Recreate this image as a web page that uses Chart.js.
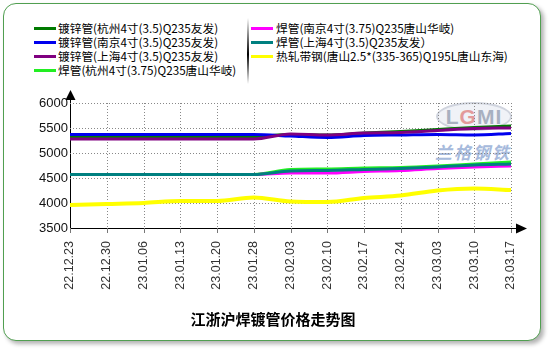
<!DOCTYPE html>
<html><head><meta charset="utf-8">
<script src="https://cdn.jsdelivr.net/npm/chart.js@4.4.1/dist/chart.umd.min.js"></script>
<style>
html,body{margin:0;padding:0;background:#fff;}
#wrap{position:relative;width:550px;height:350px;overflow:hidden;}
#frame{position:absolute;left:3px;top:3px;width:536px;height:336px;border:1.5px solid #519f51;border-radius:13px;box-shadow:3px 3px 4px rgba(0,0,0,0.3);background:#fff;}
#c{position:absolute;left:0;top:0;}
.leg{position:absolute;font:11.7px "Noto Sans CJK SC",sans-serif;line-height:14px;height:14px;white-space:nowrap;color:#000;}
.sw{position:absolute;height:3px;width:22px;}
#sep{position:absolute;left:247px;top:18px;width:2px;height:66px;background:linear-gradient(#fff,#000 55%,#fff);}
#title{position:absolute;left:0;width:546px;top:308px;text-align:center;font:bold 15px "Noto Sans CJK SC",sans-serif;color:#000;}
#wm1{position:absolute;left:436px;top:102px;width:72px;height:25px;border-radius:50%;border:2px solid #d0d4de;background:rgba(225,230,240,0.5);text-align:center;font:bold 21px "Liberation Sans",sans-serif;line-height:25px;color:#a8b0c0;letter-spacing:1px;}
#wm1 b{color:#e39a9a;}
#wm2{position:absolute;left:435px;top:139px;font:bold italic 17px "Noto Sans CJK SC",serif;color:#a6badc;letter-spacing:2px;}
</style></head>
<body>
<div id="wrap">
  <div id="frame"></div>
  <div id="wm1">L<b>G</b>MI</div>
  <div id="wm2">兰格钢铁</div>
  <div id="sep"></div>
  <div id="legend"></div>
  <canvas id="c" width="550" height="350"></canvas>
  <div id="title">江浙沪焊镀管价格走势图</div>
</div>
<script>
const dates = ["22.12.23","22.12.30","23.01.06","23.01.13","23.01.20","23.01.28","23.02.03","23.02.10","23.02.17","23.02.24","23.03.03","23.03.10","23.03.17"];
const yTicks = [3500,4000,4500,5000,5500,6000];

const seriesNames = [
  "镀锌管(杭州4寸(3.5)Q235友发)",
  "镀锌管(南京4寸(3.5)Q235友发)",
  "镀锌管(上海4寸(3.5)Q235友发)",
  "焊管(杭州4寸(3.75)Q235唐山华岐)",
  "焊管(南京4寸(3.75)Q235唐山华岐)",
  "焊管(上海4寸(3.5)Q235友发）",
  "热轧带钢(唐山2.5*(335-365)Q195L唐山东海)"
];
const seriesColors = ["#007a00","#0000ee","#800080","#22ee22","#ff00ff","#008080","#ffff00"];

const galvHangzhou = [5330,5330,5330,5330,5330,5330,5370,5360,5400,5430,5470,5510,5540];
const galvNanjing  = [5370,5370,5370,5370,5370,5370,5340,5310,5350,5360,5370,5360,5390];
const galvShanghai = [5280,5280,5280,5280,5280,5280,5380,5360,5400,5410,5450,5490,5500];
const weldHangzhou = [4570,4570,4570,4570,4570,4570,4670,4680,4700,4710,4740,4780,4820];
const weldNanjing  = [4570,4570,4570,4570,4570,4570,4600,4600,4630,4650,4690,4720,4740];
const weldShanghai = [4570,4570,4570,4570,4570,4570,4640,4650,4670,4690,4720,4760,4780];
const hotRolled    = [3960,3980,4000,4040,4040,4110,4030,4020,4100,4150,4250,4290,4260];

const seriesData = [galvHangzhou,galvNanjing,galvShanghai,weldHangzhou,weldNanjing,weldShanghai,hotRolled];

const leg = document.getElementById('legend');
seriesNames.forEach((n,i)=>{
  const col = i<4?0:1, row = i<4?i:i-4;
  const cy = 28 + row*14;
  const sx = col===0?34:251, tx = col===0?58:276;
  const sw = document.createElement('div'); sw.className='sw';
  sw.style.left=sx+'px'; sw.style.top=(cy-1.5)+'px'; sw.style.background=seriesColors[i];
  leg.appendChild(sw);
  const t = document.createElement('div'); t.className='leg';
  t.style.left=tx+'px'; t.style.top=(cy-7)+'px'; t.textContent=n;
  leg.appendChild(t);
});

// dotted grid + tick marks, positioned by the chart's own scales
const dottedGrid = {
  id:'dottedGrid',
  beforeDatasetsDraw(chart){
    const {ctx, chartArea:a, scales:{x,y}} = chart;
    ctx.save();
    ctx.strokeStyle='#888'; ctx.lineWidth=1; ctx.setLineDash([1,2]);
    x.ticks.forEach((t,i)=>{
      if(i===0) return;
      const px = Math.round(x.getPixelForTick(i))+0.5;
      ctx.beginPath(); ctx.moveTo(px,a.top); ctx.lineTo(px,a.bottom); ctx.stroke();
    });
    yTicks.forEach(v=>{
      if(v===yTicks[0]) return;
      const py = Math.round(y.getPixelForValue(v))+0.5;
      ctx.beginPath(); ctx.moveTo(a.left,py); ctx.lineTo(a.right,py); ctx.stroke();
    });
    ctx.setLineDash([]); ctx.strokeStyle='#777';
    const yb = Math.round(a.bottom);
    x.ticks.forEach((t,i)=>{
      const px = Math.round(x.getPixelForTick(i))+0.5;
      ctx.beginPath(); ctx.moveTo(px,yb); ctx.lineTo(px,yb+5); ctx.stroke();
    });
    ctx.restore();
  }
};

const axisArrows = {
  id:'axisArrows',
  afterDraw(chart){
    const {ctx, chartArea:a} = chart;
    const x0 = Math.round(a.left)+0.5, y0 = Math.round(a.bottom)+0.5;
    ctx.save();
    ctx.strokeStyle='#000'; ctx.fillStyle='#000'; ctx.lineWidth=1;
    ctx.beginPath(); ctx.moveTo(x0,a.top); ctx.lineTo(x0,a.top-4); ctx.stroke();
    ctx.beginPath(); ctx.moveTo(x0,a.top-13); ctx.lineTo(x0-5,a.top-3); ctx.lineTo(x0+5,a.top-3); ctx.closePath(); ctx.fill();
    ctx.beginPath(); ctx.moveTo(a.right,y0); ctx.lineTo(a.right+6,y0); ctx.stroke();
    ctx.beginPath(); ctx.moveTo(a.right+16,y0); ctx.lineTo(a.right+5,y0-5); ctx.lineTo(a.right+5,y0+5); ctx.closePath(); ctx.fill();
    ctx.restore();
  }
};

new Chart(document.getElementById('c'), {
  type:'line',
  data:{
    labels:dates,
    datasets: seriesData.map((d,i)=>({
      label:seriesNames[i], data:d,
      borderColor:seriesColors[i], backgroundColor:seriesColors[i],
      borderWidth: i===6?4:3, pointRadius:0, tension:0.35,
      cubicInterpolationMode:'monotone', fill:false,
      order: 10-i
    }))
  },
  options:{
    responsive:false, animation:false, devicePixelRatio:1,
    layout:{padding:{top:103,right:39,left:0,bottom:0}},
    plugins:{legend:{display:false},tooltip:{enabled:false},title:{display:false}},
    scales:{
      x:{
        grid:{display:false,drawTicks:true,tickLength:5},
        border:{display:true,color:'#000',width:1},
        ticks:{minRotation:90,maxRotation:90,autoSkip:false,padding:8,color:'#333',font:{family:'"Liberation Sans", Arial, sans-serif',size:12.5}},
        afterFit:s=>{s.height=122;}
      },
      y:{
        min:3500,max:6000,
        afterBuildTicks:s=>{s.ticks=yTicks.map(v=>({value:v}));},
        grid:{display:false,drawTicks:false},
        border:{display:true,color:'#000',width:1},
        ticks:{padding:2,color:'#111',font:{family:'"Liberation Sans", Arial, sans-serif',size:13},callback:v=>String(v)},
        afterFit:s=>{s.width=70;}
      }
    }
  },
  plugins:[dottedGrid, axisArrows]
});
</script>
</body></html>
